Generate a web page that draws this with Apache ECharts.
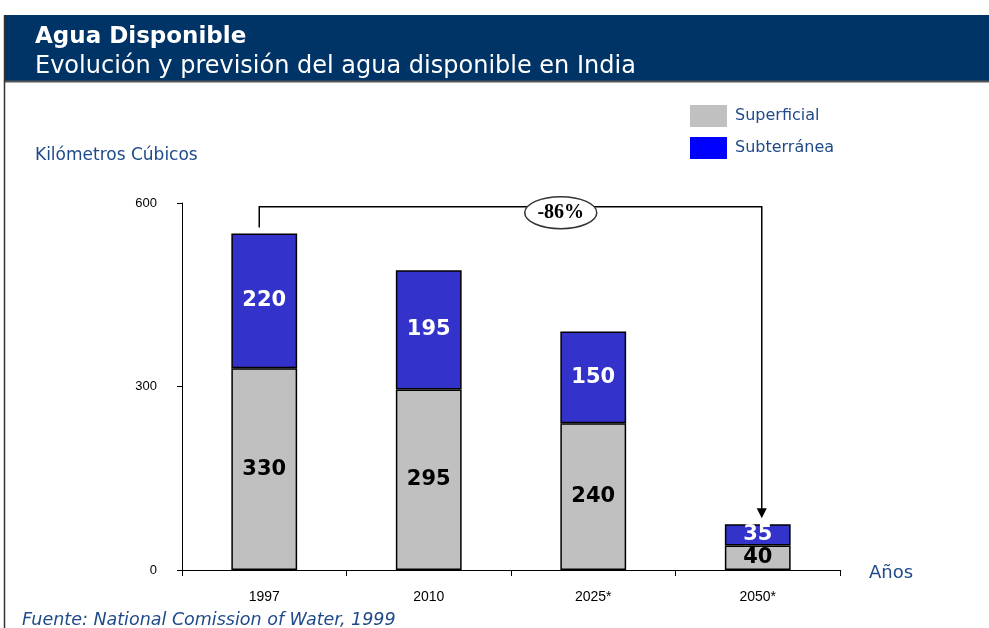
<!DOCTYPE html>
<html>
<head>
<meta charset="utf-8">
<script src="https://cdn.jsdelivr.net/npm/echarts@6/dist/echarts.min.js"></script>
<style>
  html, body { margin: 0; padding: 0; background: #fff; }
  #chart { width: 989px; height: 628px; }
</style>
</head>
<body>
<div id="chart"></div>
<script>
// data
const years = ['1997', '2010', '2025*', '2050*'];
const superficial = [330, 295, 240, 40];
const subterranea = [220, 195, 150, 35];
const yTicks = [0, 300, 600];

const navy = '#1f4a8a';
const chart = echarts.init(document.getElementById('chart'));

const option = {
  animation: false,
  grid: { left: 182, right: 149, top: 203, bottom: 58 },
  legend: {
    orient: 'vertical',
    left: 690,
    top: 105,
    padding: 0,
    itemWidth: 37,
    itemHeight: 22,
    itemGap: 10,
    icon: 'rect',
    textStyle: { color: navy, fontSize: 16, fontFamily: 'DejaVu Sans', padding: [3, 0, 0, 3] },
    data: [
      { name: 'Superficial', itemStyle: { color: '#c0c0c0', borderWidth: 0 } },
      { name: 'Subterránea', itemStyle: { color: '#0000ff', borderWidth: 0 } }
    ]
  },
  xAxis: {
    type: 'category',
    data: years,
    axisLine: { lineStyle: { color: '#000', width: 1 } },
    axisTick: { show: true, length: 6, lineStyle: { color: '#000' } },
    axisLabel: { color: '#000', fontSize: 14, fontFamily: 'Liberation Sans', margin: 20 }
  },
  yAxis: {
    type: 'value',
    min: 0,
    max: 600,
    interval: 300,
    splitLine: { show: false },
    axisLine: { show: true, lineStyle: { color: '#000', width: 1 } },
    axisTick: { show: true, length: 5, lineStyle: { color: '#000' } },
    axisLabel: {
      color: '#000', fontSize: 13, fontFamily: 'Liberation Sans', margin: 25,
      formatter: v => yTicks.includes(v) ? String(v) : ''
    }
  },
  series: [
    {
      name: 'Superficial',
      type: 'bar',
      stack: 'total',
      barWidth: '40%',
      data: superficial,
      itemStyle: { color: '#c0c0c0', borderColor: '#000', borderWidth: 1.5 },
      label: { show: true, position: 'inside', color: '#000', fontSize: 21, fontWeight: 'bold', fontFamily: 'DejaVu Sans' }
    },
    {
      name: 'Subterránea',
      type: 'bar',
      stack: 'total',
      data: subterranea,
      itemStyle: { color: '#3333cc', borderColor: '#000', borderWidth: 1.5 },
      label: { show: true, position: 'inside', color: '#fff', fontSize: 21, fontWeight: 'bold', fontFamily: 'DejaVu Sans' }
    }
  ]
};

chart.setOption(option);

// annotation built from the axes
const first = chart.convertToPixel({ gridIndex: 0 }, [0, superficial[0] + subterranea[0]]);
const last = chart.convertToPixel({ gridIndex: 0 }, [3, superficial[3] + subterranea[3]]);
const topY = chart.convertToPixel({ gridIndex: 0 }, [0, 594])[1];
const x1 = first[0] - 5;
const x2 = last[0] + 4;
const ex = x1 + (x2 - x1) * 0.6;
const pct = Math.round((1 - (superficial[3] + subterranea[3]) / (superficial[0] + subterranea[0])) * 100);

chart.setOption({
  graphic: [
    { type: 'rect', shape: { x: 4, y: 15, width: 985, height: 66 }, style: { fill: '#003366' }, silent: true },
    { type: 'line', shape: { x1: 4, y1: 81.5, x2: 989, y2: 81.5 }, style: { stroke: '#555', lineWidth: 2 } },
    { type: 'line', shape: { x1: 4.5, y1: 15, x2: 4.5, y2: 628 }, style: { stroke: '#333', lineWidth: 1.5 } },
    { type: 'text', left: 35, top: 26, style: { text: 'Agua Disponible', fill: '#fff', fontSize: 23, fontWeight: 'bold', fontFamily: 'DejaVu Sans' } },
    { type: 'text', left: 35, top: 55, style: { text: 'Evolución y previsión del agua disponible en India', fill: '#fff', fontSize: 24, fontFamily: 'DejaVu Sans' } },
    { type: 'text', left: 35, top: 147, style: { text: 'Kilómetros Cúbicos', fill: navy, fontSize: 17, fontFamily: 'DejaVu Sans' } },
    { type: 'text', left: 869, top: 564, style: { text: 'Años', fill: navy, fontSize: 18, fontFamily: 'DejaVu Sans' } },
    { type: 'text', left: 22, top: 611, style: { text: 'Fuente: National Comission of Water, 1999', fill: navy, fontSize: 17.5, fontStyle: 'italic', fontFamily: 'DejaVu Sans' } },
    {
      type: 'polyline',
      shape: { points: [[x1, first[1] - 6], [x1, topY], [x2, topY], [x2, last[1] - 14]] },
      style: { stroke: '#000', lineWidth: 1.5, fill: null }
    },
    {
      type: 'polygon',
      shape: { points: [[x2 - 5, last[1] - 16], [x2 + 5, last[1] - 16], [x2, last[1] - 6]] },
      style: { fill: '#000' }
    },
    {
      type: 'ellipse',
      shape: { cx: ex, cy: topY + 6, rx: 36, ry: 16 },
      style: { fill: '#fff', stroke: '#333', lineWidth: 1.5 }
    },
    {
      type: 'text', x: ex, y: topY + 6,
      style: { text: '-' + pct + '%', fill: '#000', fontSize: 20, fontWeight: 'bold', fontFamily: 'Liberation Serif', align: 'center', verticalAlign: 'middle' }
    }
  ]
});
</script>
</body>
</html>
